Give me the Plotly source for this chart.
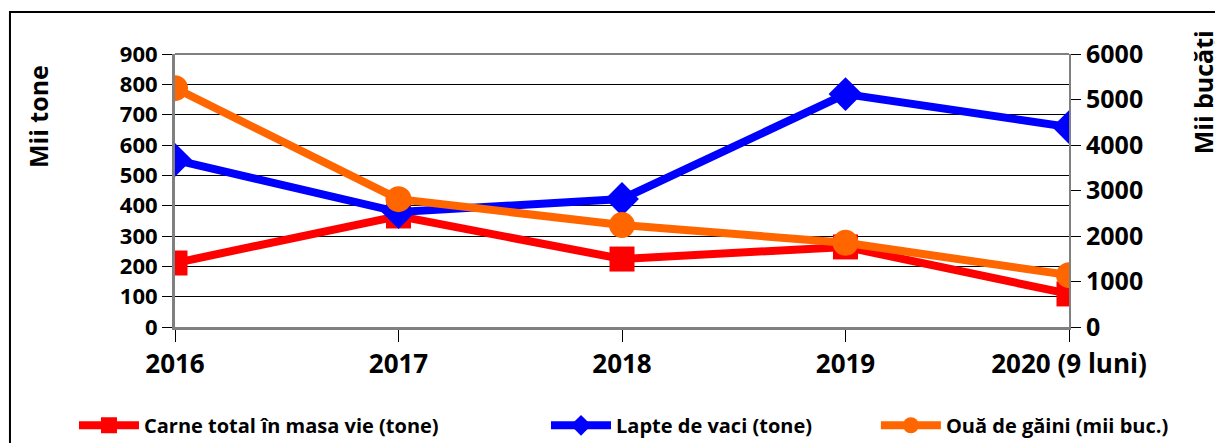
import plotly.graph_objects as go

years = ["2016", "2017", "2018", "2019", "2020 (9 luni)"]
carne = [211, 366, 224, 264, 109]
lapte = [551, 379, 422, 768, 659]
oua = [5250, 2810, 2240, 1850, 1140]

series_names = ["Carne total în masa vie (tone)", "Lapte de vaci (tone)", "Ouă de găini (mii buc.)"]

FONT = "Open Sans"
PAGE_MARGIN = 8  # default body margin of the html page

fig = go.Figure()
fig.add_trace(go.Scatter(x=years, y=carne, name=series_names[0], legend="legend", showlegend=True,
                         mode="lines+markers", line=dict(color="#ff0000", width=8),
                         marker=dict(symbol="square", size=25, color="#ff0000")))
fig.add_trace(go.Scatter(x=years, y=lapte, name=series_names[1], legend="legend2", showlegend=True,
                         mode="lines+markers", line=dict(color="#0000ff", width=8),
                         marker=dict(symbol="diamond", size=26, color="#0000ff")))
fig.add_trace(go.Scatter(x=years, y=oua, name=series_names[2], yaxis="y2", legend="legend3", showlegend=True,
                         mode="lines+markers", line=dict(color="#ff6600", width=8),
                         marker=dict(symbol="circle", size=26, color="#ff6600")))

def bold(size):
    return dict(family=FONT, size=size, color="black", weight="bold")

legend_common = dict(orientation="h", yanchor="middle", y=-0.36, xanchor="left",
                     font=bold(20), itemwidth=60, bgcolor="rgba(0,0,0,0)")

fig.update_layout(
    width=1223 - PAGE_MARGIN, height=443 - PAGE_MARGIN,
    margin=dict(l=175 - PAGE_MARGIN, r=154, t=54 - PAGE_MARGIN, b=116, autoexpand=False),
    paper_bgcolor="white", plot_bgcolor="white",
    hovermode=False,
    showlegend=True,
    font=dict(family=FONT, color="black"),
    xaxis=dict(type="category", range=[0, 4], tickfont=bold(26), automargin=False,
               showgrid=False, showline=True, linecolor="#808080", linewidth=3,
               ticks="outside", ticklen=12, tickcolor="black", tickwidth=1,
               zeroline=False),
    yaxis=dict(range=[0, 900], dtick=100, tickfont=bold(22), automargin=False,
               showgrid=True, gridcolor="black", gridwidth=1,
               showline=True, linecolor="#808080", linewidth=3,
               ticks="outside", ticklen=10, tickcolor="black",
               zeroline=False),
    yaxis2=dict(range=[0, 6000], dtick=1000, overlaying="y", side="right",
                tickfont=bold(25), showgrid=False, automargin=False,
                showline=True, linecolor="#808080", linewidth=2,
                ticks="outside", ticklen=10, tickcolor="black",
                zeroline=False),
    legend=dict(legend_common, x=-0.113),
    legend2=dict(legend_common, x=0.415),
    legend3=dict(legend_common, x=0.784),
    annotations=[
        dict(text="Mii tone", xref="paper", yref="paper", x=-0.153, y=0.77,
             showarrow=False, textangle=-90, font=bold(25), xanchor="center", yanchor="middle"),
        dict(text="Mii bucăți", xref="paper", yref="paper", x=1.150, y=0.86,
             showarrow=False, textangle=-90, font=bold(25), xanchor="center", yanchor="middle"),
    ],
    shapes=[dict(type="rect", xref="paper", yref="paper",
                 x0=-0.1846, x1=1.3, y0=-0.6, y1=1.1538,
                 line=dict(color="black", width=2), layer="below"),
            dict(type="line", xref="paper", yref="paper", x0=0, x1=1, y0=1, y1=1,
                 line=dict(color="#808080", width=2))],
)

fig.write_html("out.html")
